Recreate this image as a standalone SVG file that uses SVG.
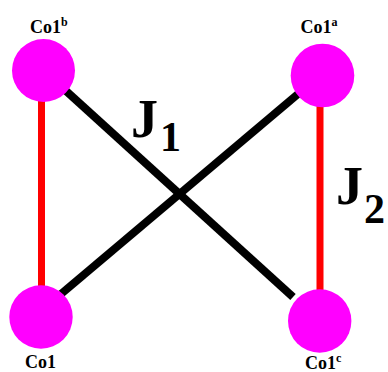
<svg xmlns="http://www.w3.org/2000/svg" width="388" height="372" viewBox="0 0 388 372">
<style>
.node{fill:#ff00ff}
.lbl{font-family:"Liberation Serif","Times New Roman",serif;font-weight:bold;font-size:18px;fill:#000}
.sup{font-size:12px}
.j{font-family:"Liberation Serif","Times New Roman",serif;font-weight:bold;font-size:54px;fill:#000}
.sub{font-size:42px}
.red{stroke:#ff0000;stroke-width:7}
.blk{stroke:#000;stroke-width:8}
</style>
<rect width="388" height="372" fill="#fff"/>
<g id="connectors">
<line class="red" x1="41.5" y1="100" x2="41.5" y2="288"/>
<line class="red" x1="320" y1="105" x2="320" y2="290"/>
<line class="blk" x1="65" y1="90" x2="293" y2="297"/>
<line class="blk" x1="61" y1="294" x2="298" y2="94"/>
</g>
<g id="node-co1b">
<circle class="node" cx="43.5" cy="70.5" r="31.5"/>
<text class="lbl" x="30" y="32.5">Co1<tspan class="sup" dy="-7">b</tspan></text>
</g>
<g id="node-co1a">
<circle class="node" cx="322.5" cy="75.5" r="31.8"/>
<text class="lbl" x="300.5" y="33">Co1<tspan class="sup" dy="-7">a</tspan></text>
</g>
<g id="node-co1">
<circle class="node" cx="41" cy="317" r="31.7"/>
<text class="lbl" x="25" y="368">Co1</text>
</g>
<g id="node-co1c">
<circle class="node" cx="319.7" cy="321" r="31.7"/>
<text class="lbl" x="305" y="369">Co1<tspan class="sup" dy="-7">c</tspan></text>
</g>
<g id="label-j1">
<text class="j" x="131" y="137">J<tspan class="sub" x="160" y="151">1</tspan></text>
</g>
<g id="label-j2">
<text class="j" x="336" y="204">J<tspan class="sub" x="364" y="223">2</tspan></text>
</g>
</svg>
